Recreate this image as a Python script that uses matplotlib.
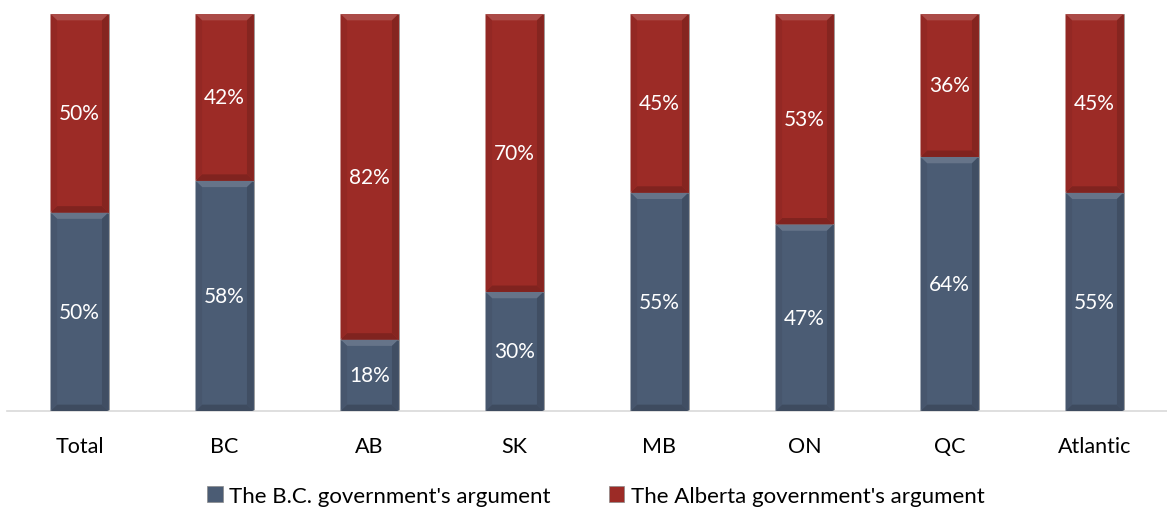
import matplotlib.pyplot as plt
from matplotlib.patches import Polygon, Rectangle
import numpy as np

regions = ["Total", "BC", "AB", "SK", "MB", "ON", "QC", "Atlantic"]
bc_arg = [50, 58, 18, 30, 55, 47, 64, 55]
ab_arg = [50, 42, 82, 70, 45, 53, 36, 45]
series_names = ["The B.C. government's argument", "The Alberta government's argument"]

blue = "#4b5c74"
red = "#9c2b26"

plt.rcParams['font.family'] = ['Lato', 'DejaVu Sans']


def shade(color, f):
    c = np.array(plt.matplotlib.colors.to_rgb(color))
    if f > 0:
        c = c + (1 - c) * f
    else:
        c = c * (1 + f)
    return tuple(np.clip(c, 0, 1))


def bevel(ax, x0, y0, w, h, color, bx=0.045, by=1.6):
    # flat face plus four edge trapezoids to get the raised look
    x1, y1 = x0 + w, y0 + h
    top = [(x0, y1), (x1, y1), (x1 - bx, y1 - by), (x0 + bx, y1 - by)]
    bot = [(x0, y0), (x1, y0), (x1 - bx, y0 + by), (x0 + bx, y0 + by)]
    left = [(x0, y0), (x0, y1), (x0 + bx, y1 - by), (x0 + bx, y0 + by)]
    right = [(x1, y0), (x1, y1), (x1 - bx, y1 - by), (x1 - bx, y0 + by)]
    for pts, f in [(top, 0.15), (bot, -0.18), (left, -0.06), (right, -0.15)]:
        ax.add_patch(Polygon(pts, closed=True, facecolor=shade(color, f),
                             edgecolor='none', zorder=3))


fig = plt.figure(figsize=(11.67, 5.10), dpi=100)
ax = fig.add_axes([7 / 1167, 1 - 412 / 510, 1160 / 1167, 397 / 510])

x = np.arange(len(regions))
width = 0.4
b1 = ax.bar(x, bc_arg, width, color=blue, edgecolor='#9a9a9a', linewidth=0.6, zorder=2)
b2 = ax.bar(x, ab_arg, width, bottom=bc_arg, color=red, edgecolor='#9a9a9a', linewidth=0.6, zorder=2)

for bars, color in [(b1, blue), (b2, red)]:
    for r in bars:
        bevel(ax, r.get_x(), r.get_y(), r.get_width(), r.get_height(), color)

for i in range(len(regions)):
    ax.text(x[i], bc_arg[i] / 2, f"{bc_arg[i]}%", ha='center', va='center',
            color='white', fontsize=15, zorder=4)
    ax.text(x[i], bc_arg[i] + ab_arg[i] / 2, f"{ab_arg[i]}%", ha='center', va='center',
            color='white', fontsize=15, zorder=4)

ax.set_xlim(-0.5, len(regions) - 0.5)
ax.set_ylim(0, 100)
ax.set_yticks([])
ax.set_xticks(x)
ax.set_xticklabels(regions, fontsize=15.5)
ax.tick_params(axis='x', length=0, pad=18)
for s in ['top', 'left', 'right']:
    ax.spines[s].set_visible(False)
ax.spines['bottom'].set_color('#d9d9d9')
ax.spines['bottom'].set_linewidth(1.2)

# legend with small squares
handles = [Rectangle((0, 0), 1, 1, facecolor=blue, edgecolor='#8a8a8a', linewidth=0.5),
           Rectangle((0, 0), 1, 1, facecolor=red, edgecolor='#8a8a8a', linewidth=0.5)]
fig.legend(handles, series_names, loc='center', bbox_to_anchor=(596 / 1167, 1 - 497 / 510),
           ncol=2, frameon=False, fontsize=16, handlelength=0.7, handleheight=0.7,
           handletextpad=0.3, columnspacing=2.6)

fig.savefig("out.png", dpi=100)
